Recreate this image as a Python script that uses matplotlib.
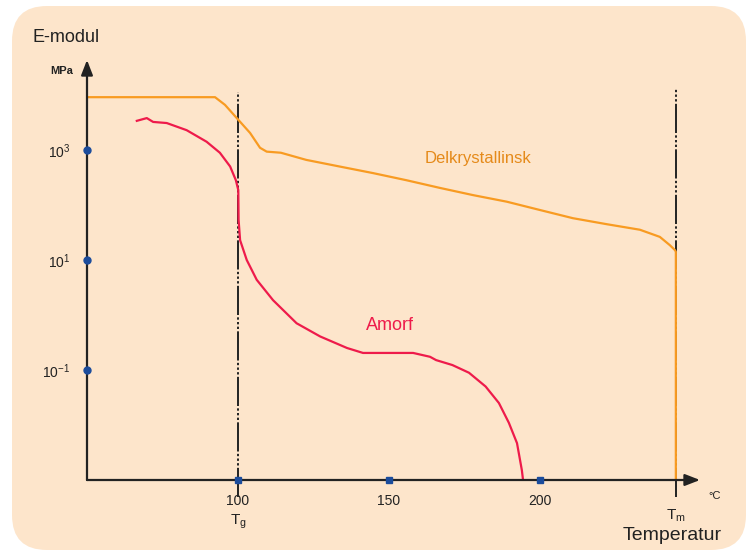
import matplotlib.pyplot as plt
import matplotlib.patches as mpatches
import numpy as np

# data (temperature in degC, log10 of E-modul in MPa)
temp_amorf = [66.5, 69.8, 71.9, 76.4, 83.0, 89.6, 94.0, 97.4, 99.3, 100.1, 100.2, 100.7,
              102.9, 106.2, 111.6, 119.4, 127.2, 136.1, 141.4, 158.0, 163.6, 165.6,
              171.0, 176.5, 182.0, 186.4, 189.7, 192.4, 194.0, 194.4]
loge_amorf = [3.53, 3.58, 3.51, 3.49, 3.36, 3.15, 2.95, 2.70, 2.45, 2.27, 1.73, 1.36,
              1.00, 0.64, 0.27, -0.15, -0.39, -0.60, -0.69, -0.69, -0.76, -0.82,
              -0.91, -1.05, -1.30, -1.60, -1.96, -2.33, -2.82, -3.0]

temp_delkr = [50, 92.4, 95.7, 99.6, 104.0, 107.3, 109.5, 114.2, 122.6, 133.6, 144.7,
              155.8, 166.9, 177.8, 189.0, 199.9, 210.9, 222.2, 233.1, 239.7, 243.0,
              244.7, 245.0, 245.0]
loge_delkr = [3.96, 3.96, 3.82, 3.58, 3.31, 3.04, 2.97, 2.95, 2.82, 2.70, 2.58,
              2.45, 2.31, 2.18, 2.06, 1.91, 1.76, 1.65, 1.55, 1.42, 1.27,
              1.18, 1.15, -3.0]

tg = 100
tm = 245
x_ticks = [100, 150, 200]
x_labels = ['100', '150', '200']
y_ticks = [1e3, 1e1, 1e-1]
y_labels = ['10$^{3}$', '10$^{1}$', '10$^{-1}$']

plt.rcParams['font.family'] = ['Liberation Sans Narrow', 'Liberation Sans', 'DejaVu Sans']
plt.rcParams['mathtext.default'] = 'regular'

bg = '#FDE5CB'
orange = '#F89B22'
red = '#EE1B4B'
blue = '#1B4C9C'

fig = plt.figure(figsize=(7.49, 5.54), dpi=100)
fig.patch.set_facecolor('white')

# rounded beige panel
box = mpatches.FancyBboxPatch((0.12, 0.04), 7.34, 5.44,
                              boxstyle='round,pad=0,rounding_size=0.35',
                              transform=fig.dpi_scale_trans,
                              facecolor=bg, edgecolor='none', zorder=-5)
fig.patches.append(box)

ax = fig.add_axes([87 / 749, 74 / 554, 613 / 749, 420 / 554])
ax.set_facecolor('none')
ax.set_yscale('log')
ax.set_xlim(50, 253)
ax.set_ylim(1e-3, 10 ** 4.636)
for s in ax.spines.values():
    s.set_visible(False)

# curves
ax.plot(temp_delkr, 10 ** np.array(loge_delkr), color=orange, lw=1.6, zorder=3)
ax.plot(temp_amorf, 10 ** np.array(loge_amorf), color=red, lw=1.6, zorder=3)

# Tg / Tm lines
for t, top in [(tg, 0.925), (tm, 0.93)]:
    ax.axvline(t, ymin=-0.04, ymax=top, color='#222222', lw=1.4,
               dashes=(15, 1.2, 1.2, 1.2, 1.2, 1.2, 1.2, 1.2),
               clip_on=False, zorder=2)

# axes with arrows
ax.annotate('', xy=(1.0, 0), xytext=(0, 0), xycoords='axes fraction',
            arrowprops=dict(arrowstyle='-|>,head_length=0.9,head_width=0.35',
                            color='#222222', lw=1.6, shrinkA=0, shrinkB=0))
ax.annotate('', xy=(0, 1.0), xytext=(0, 0), xycoords='axes fraction',
            arrowprops=dict(arrowstyle='-|>,head_length=0.9,head_width=0.35',
                            color='#222222', lw=1.6, shrinkA=0, shrinkB=0))

# tick markers
ax.plot([50] * len(y_ticks), y_ticks, 'o', color=blue, ms=5, clip_on=False, zorder=4)
ax.plot(x_ticks, [1e-3] * len(x_ticks), 's', color=blue, ms=5, clip_on=False, zorder=4)

ax.set_xticks(x_ticks)
ax.set_xticklabels(x_labels, fontsize=10)
ax.set_yticks(y_ticks)
ax.set_yticklabels(y_labels, fontsize=10)
ax.minorticks_off()
ax.tick_params(axis='both', length=0, colors='#222222')
ax.tick_params(axis='x', pad=10)
ax.tick_params(axis='y', pad=12)

# labels
ax.text(tg, -0.1, 'T$_g$', transform=ax.get_xaxis_transform(), ha='center',
        va='center', fontsize=11, color='#222222')
ax.text(tm, -0.085, 'T$_m$', transform=ax.get_xaxis_transform(), ha='center',
        va='center', fontsize=11, color='#222222')
fig.text(722 / 749, 1 - 535 / 554, 'Temperatur', ha='right', va='center',
         fontsize=14, color='#222222')
fig.text(715 / 749, 1 - 496 / 554, '°C', ha='center', va='center',
         fontsize=8, color='#222222')
fig.text(33 / 749, 1 - 38 / 554, 'E-modul', ha='left', va='center',
         fontsize=13, color='#222222')
fig.text(62 / 749, 1 - 71 / 554, 'MPa', ha='center', va='center',
         fontsize=8, color='#222222', fontweight='bold')

fig.text(478 / 749, 1 - 158 / 554, 'Delkrystallinsk', ha='center', va='center',
         fontsize=12, color='#E58A1A')
fig.text(390 / 749, 1 - 325 / 554, 'Amorf', ha='center', va='center',
         fontsize=13, color=red)

fig.savefig('out.png', dpi=100)
